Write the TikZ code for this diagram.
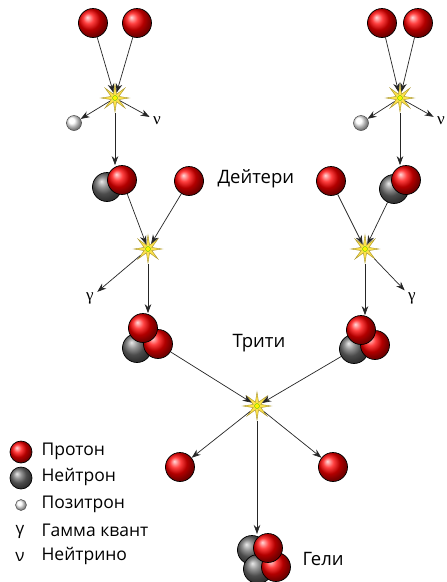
\documentclass[tikz,border=0pt]{standalone}
\usepackage{fontspec}
\setmainfont{Open Sans}
\newfontfamily\greekserif{Liberation Serif}
\usetikzlibrary{shapes.geometric,arrows.meta,backgrounds}
\begin{document}
\begin{tikzpicture}[x=1pt,y=-1pt,
  proton/.style={circle,draw=black,line width=0.7pt,ball color=red,minimum size=29pt,inner sep=0pt},
  neutron/.style={circle,draw=black,line width=0.7pt,ball color=gray!85!black,minimum size=29pt,inner sep=0pt},
  positron/.style={circle,draw=black!70,line width=0.5pt,ball color=white,minimum size=15pt,inner sep=0pt},
  burst/.style={star,star points=8,star point ratio=3.4,minimum size=28pt,inner sep=0pt,
    fill=yellow!75!orange!70,draw=olive!60!brown,line width=0.4pt},
  core/.style={circle,fill=yellow,draw=green!50!olive,line width=0.3pt,minimum size=5pt,inner sep=0pt},
  arr/.style={-{Stealth[length=9pt,width=6.5pt]},line width=0.7pt,draw=black!85},
  label/.style={font=\fontsize{18.5}{22}\selectfont,anchor=west},
  particle/.style={font=\greekserif\fontsize{17}{20}\selectfont},
  legtext/.style={font=\fontsize{17.5}{21}\selectfont,anchor=west},
  legsym/.style={font=\fontsize{17}{20}\selectfont}]
  \fill[white] (0,0) rectangle (447,582);
  \useasboundingbox (0,0) rectangle (447,582);

  % reaction points
  \node[burst] (s1) at (115,98) {};
  \node[burst] (s3) at (400,98) {};
  \node[burst] (s2) at (148,249) {};
  \node[burst] (s4) at (365,249) {};
  \node[burst] (s5) at (257,406) {};
  \foreach \s in {s1,s2,s3,s4,s5} \node[core] at (\s) {};
  \begin{scope}[on background layer]
    \foreach \s in {s1,s2,s3,s4,s5}
      \shade[inner color=red!45,outer color=white] (\s) circle (16);
  \end{scope}

  % first step, left
  \node[proton] (p1) at (93,23) {};
  \node[proton] (p2) at (137,23) {};
  \node[positron] (e1) at (74,123) {};
  \node[particle] (nu1) at (157,121) {ν};
  % first step, right
  \node[proton] (p3) at (382,23) {};
  \node[proton] (p4) at (418,23) {};
  \node[positron] (e2) at (361,123) {};
  \node[particle] (nu2) at (441,121) {ν};

  % deuterium and free protons
  \node[neutron] (nD1) at (107,187) {};
  \node[proton] (pD1) at (122,180) {};
  \node[proton] (pL) at (189,181) {};
  \node[proton] (pR) at (331,181) {};
  \node[neutron] (nD2) at (394,189) {};
  \node[proton] (pD2) at (406,180) {};
  \node[label] (deut) at (214,179) {Дейтери};

  % gamma quanta
  \node[particle] (g1) at (90,298) {γ};
  \node[particle] (g2) at (412,298) {γ};

  % tritium (helium-3 nuclei)
  \node[neutron] (nT1) at (137,348) {};
  \node[proton] (pT1b) at (158,344) {};
  \node[proton] (pT1a) at (143,328) {};
  \node[neutron] (nT2) at (354,349) {};
  \node[proton] (pT2b) at (375,345) {};
  \node[proton] (pT2a) at (361,330) {};
  \node[label] (trit) at (229,343) {Трити};

  % products
  \node[proton] (po1) at (180,467) {};
  \node[proton] (po2) at (333,467) {};
  \node[neutron] (nH1) at (252,550) {};
  \node[neutron] (nH2) at (258,569) {};
  \node[proton] (pH2) at (276,567) {};
  \node[proton] (pH1) at (268,548) {};
  \coordinate (heTop) at (257,534);
  \node[label] (hel) at (299,559) {Гели};

  % connectors
  \draw[arr] (p1) -- (s1);
  \draw[arr] (p2) -- (s1);
  \draw[arr] (s1) -- (e1);
  \draw[arr] (s1) -- (nu1);
  \draw[arr] (s1) -- (s1 |- pD1.north);
  \draw[arr] (p3) -- (s3);
  \draw[arr] (p4) -- (s3);
  \draw[arr] (s3) -- (e2);
  \draw[arr] (s3) -- (nu2);
  \draw[arr] (s3) -- (s3 |- pD2.north);

  \draw[arr] (pD1) -- (s2);
  \draw[arr] (pL) -- (s2);
  \draw[arr] (s2) -- (g1);
  \draw[arr] (s2) -- (s2 |- pT1a.north);
  \draw[arr] (pR) -- (s4);
  \draw[arr] (nD2) -- (s4);
  \draw[arr] (s4) -- (g2);
  \draw[arr] (s4) -- (s4 |- pT2a.north);

  \draw[arr] (pT1b) -- (s5);
  \draw[arr] (nT2) -- (s5);
  \draw[arr] (s5) -- (po1);
  \draw[arr] (s5) -- (po2);
  \draw[arr] (s5) -- (heTop);

  % legend
  \node[proton,minimum size=22pt] (lp) at (21,452) {};
  \node[legtext] (tp) at (38,451) {Протон};
  \node[neutron,minimum size=22pt] (ln) at (21,478) {};
  \node[legtext] (tn) at (38,477) {Нейтрон};
  \node[positron,minimum size=11pt] (le) at (21,505) {};
  \node[legtext] (te) at (38,504) {Позитрон};
  \node[legsym] (lg) at (20,532) {γ};
  \node[legtext] (tg) at (38,530) {Гамма квант};
  \node[legsym] (lv) at (20,557) {ν};
  \node[legtext] (tv) at (38,556) {Нейтрино};
\end{tikzpicture}
\end{document}
